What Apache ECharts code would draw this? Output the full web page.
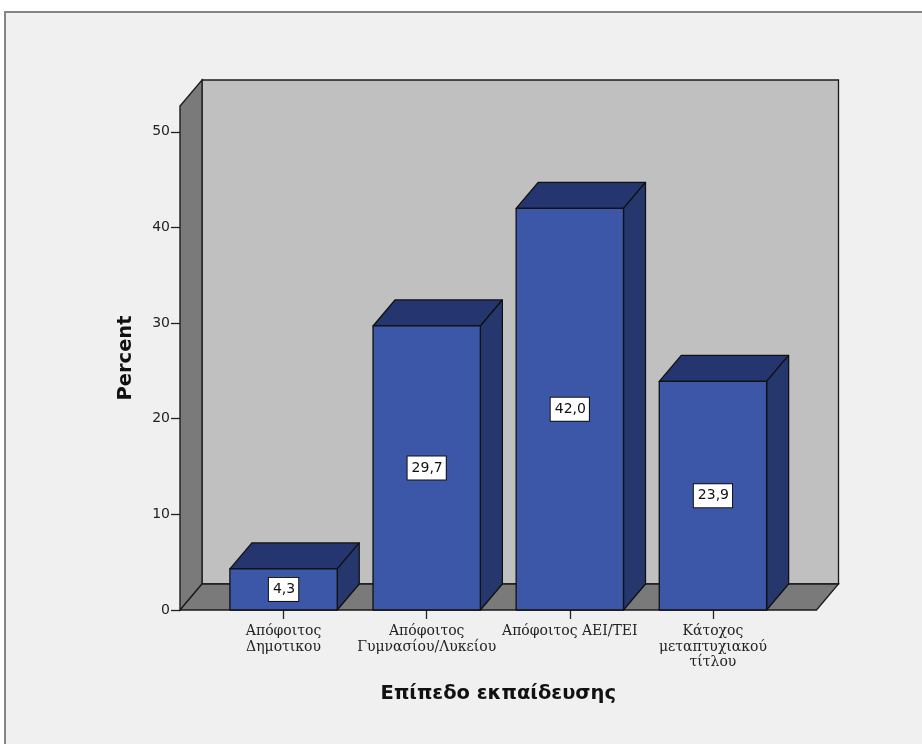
<!DOCTYPE html>
<html>
<head>
<meta charset="utf-8">
<title>Επίπεδο εκπαίδευσης</title>
<script src="https://cdn.jsdelivr.net/npm/echarts@6/dist/echarts.min.js"></script>
<style>
  html, body { margin: 0; padding: 0; background: #ffffff; }
  #chart { width: 922px; height: 744px; }
</style>
</head>
<body>
<div id="chart"></div>
<script>
// Education level categories and their percentages
const categories = [
  'Απόφοιτος\nΔημοτικου',
  'Απόφοιτος\nΓυμνασίου/Λυκείου',
  'Απόφοιτος ΑΕΙ/ΤΕΙ',
  'Κάτοχος\nμεταπτυχιακού\nτίτλου'
];
const percentValues = [4.3, 29.7, 42.0, 23.9];
const yTickValues = [0, 10, 20, 30, 40, 50];

// 3D look: depth offset of the box and the walls, in pixels
const DX = 22, DY = 26;
// floor extends beyond the outermost category bands
const OUTER = 32;
const Y_MAX = 52.7;

const fmt = v => v.toFixed(1).replace('.', ',');

const chart = echarts.init(document.getElementById('chart'), null, { renderer: 'canvas' });

function renderBackdrop(params, api) {
  const cs = params.coordSys;
  const x0 = cs.x - OUTER;
  const x1 = cs.x + cs.width + OUTER;
  const yTop = api.coord([0, Y_MAX])[1];
  const yBase = api.coord([0, 0])[1];
  const line = { stroke: '#1a1a1a', lineWidth: 1.3 };
  return {
    type: 'group',
    children: [
      { // back wall
        type: 'polygon',
        shape: { points: [[x0 + DX, yTop - DY], [x1 + DX, yTop - DY], [x1 + DX, yBase - DY], [x0 + DX, yBase - DY]] },
        style: Object.assign({ fill: '#c0c0c0' }, line)
      },
      { // left wall
        type: 'polygon',
        shape: { points: [[x0, yBase], [x0, yTop], [x0 + DX, yTop - DY], [x0 + DX, yBase - DY]] },
        style: Object.assign({ fill: '#7a7a7a' }, line)
      },
      { // floor
        type: 'polygon',
        shape: { points: [[x0, yBase], [x1, yBase], [x1 + DX, yBase - DY], [x0 + DX, yBase - DY]] },
        style: Object.assign({ fill: '#7a7a7a' }, line)
      }
    ]
  };
}

function renderBar(params, api) {
  const idx = api.value(0);
  const val = api.value(1);
  const top = api.coord([idx, val]);
  const base = api.coord([idx, 0]);
  const w = api.size([1, 0])[0] * 0.75;
  const l = top[0] - w / 2, r = top[0] + w / 2;
  const t = top[1], b = base[1];
  const edge = { stroke: '#111111', lineWidth: 1.3, lineJoin: 'round' };
  return {
    type: 'group',
    children: [
      { // top face
        type: 'polygon',
        shape: { points: [[l, t], [l + DX, t - DY], [r + DX, t - DY], [r, t]] },
        style: Object.assign({ fill: '#243570' }, edge)
      },
      { // side face
        type: 'polygon',
        shape: { points: [[r, t], [r + DX, t - DY], [r + DX, b - DY], [r, b]] },
        style: Object.assign({ fill: '#25376d' }, edge)
      },
      { // front face
        type: 'rect',
        shape: { x: l, y: t, width: w, height: b - t },
        style: Object.assign({ fill: '#3c56a8' }, edge)
      },
      { // value label
        type: 'text',
        x: top[0],
        y: (t + b) / 2,
        style: {
          text: fmt(val),
          fill: '#111111',
          font: '14px "DejaVu Sans", sans-serif',
          align: 'center',
          verticalAlign: 'middle',
          backgroundColor: '#ffffff',
          borderColor: '#111111',
          borderWidth: 1,
          padding: [5, 3, 4, 4]
        }
      }
    ]
  };
}

const option = {
  backgroundColor: '#ffffff',
  animation: false,
  graphic: [{
    type: 'rect',
    z: -10,
    shape: { x: 5, y: 12, width: 940, height: 760 },
    style: { fill: '#f0f0f0', stroke: '#858585', lineWidth: 2 }
  }],
  grid: { left: 212, right: 137.5, top: 106, bottom: 134 },
  xAxis: {
    type: 'category',
    data: categories,
    name: 'Επίπεδο εκπαίδευσης',
    nameLocation: 'middle',
    nameGap: 74,
    nameTextStyle: { fontFamily: '"DejaVu Sans", sans-serif', fontWeight: 'bold', fontSize: 19.5, color: '#111111' },
    axisLine: { show: false },
    axisTick: { show: true, alignWithLabel: true, length: 9, lineStyle: { color: '#222222', width: 1.3 } },
    axisLabel: {
      interval: 0,
      margin: 14,
      fontFamily: '"DejaVu Serif", "Liberation Serif", serif',
      fontSize: 14,
      lineHeight: 15.5,
      color: '#222222'
    },
    splitLine: { show: false }
  },
  yAxis: {
    type: 'value',
    min: 0,
    max: Y_MAX,
    interval: 10,
    offset: OUTER,
    name: 'Percent',
    nameLocation: 'middle',
    nameGap: 44,
    nameTextStyle: { fontFamily: '"DejaVu Sans", sans-serif', fontWeight: 'bold', fontSize: 19.5, color: '#111111' },
    axisLine: { show: true, lineStyle: { color: '#1a1a1a', width: 1.3 } },
    axisTick: { show: true, length: 9, customValues: yTickValues, lineStyle: { color: '#222222', width: 1.3 } },
    axisLabel: {
      customValues: yTickValues,
      margin: 10,
      fontFamily: '"DejaVu Sans", sans-serif',
      fontSize: 14,
      color: '#222222'
    },
    splitLine: { show: false }
  },
  series: [
    {
      type: 'custom',
      silent: true,
      clip: false,
      z: 1,
      renderItem: renderBackdrop,
      data: [[0, 0]]
    },
    {
      type: 'custom',
      clip: false,
      z: 2,
      renderItem: renderBar,
      encode: { x: 0, y: 1 },
      data: percentValues.map((v, i) => [i, v])
    }
  ]
};

chart.setOption(option);
</script>
</body>
</html>
